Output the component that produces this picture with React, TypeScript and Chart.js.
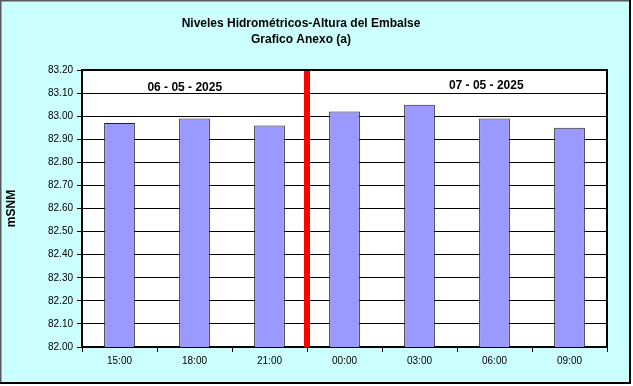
import { useEffect, useRef } from "react";
import { Chart, registerables } from "chart.js";

Chart.register(...registerables);

const categories = ["15:00", "18:00", "21:00", "00:00", "03:00", "06:00", "09:00"];
const levels = [82.97, 82.99, 82.96, 83.02, 83.05, 82.99, 82.95];
const yMin = 82.0;
const yMax = 83.2;
const yStep = 0.1;
const titleLines = ["Niveles Hidrométricos-Altura del Embalse", "Grafico Anexo (a)"];
const yAxisTitle = "mSNM";
const dayLabels = ["06 - 05 - 2025", "07 - 05 - 2025"];
const dayLabelAnchorX = [0.87, 4.89];
const dayLabelAnchorY = [83.123, 83.133];
const dividerAfterIndex = 2;

const FONT = "Arial, 'Liberation Sans', sans-serif";

const decorPlugin = {
  id: "decor",
  beforeDraw(chart: any) {
    const { ctx, width, height } = chart;
    ctx.save();
    ctx.fillStyle = "#CCFFFF";
    ctx.fillRect(0, 0, width, height);
    // frame
    ctx.fillStyle = "#5a5a5a";
    ctx.fillRect(0, 0, width - 3, 1.5);
    ctx.fillRect(0, 0, 1.5, height - 3);
    ctx.fillStyle = "#000";
    ctx.fillRect(width - 4, 0, 2, height - 2);
    ctx.fillRect(0, height - 4, width - 2, 2);
    ctx.fillStyle = "#fff";
    ctx.fillRect(width - 2, 0, 2, height);
    ctx.fillRect(0, height - 2, width, 2);
    // title
    ctx.fillStyle = "#000";
    ctx.font = `bold 12px ${FONT}`;
    ctx.textAlign = "center";
    ctx.textBaseline = "middle";
    ctx.fillText(titleLines[0], 301, 24);
    ctx.fillText(titleLines[1], 301, 40);
    // y title
    ctx.translate(12, (chart.chartArea.top + chart.chartArea.bottom) / 2);
    ctx.rotate(-Math.PI / 2);
    ctx.fillText(yAxisTitle, 0, 0);
    ctx.restore();
    // plot background
    const a = chart.chartArea;
    ctx.save();
    ctx.fillStyle = "#fff";
    ctx.fillRect(a.left, a.top, a.right - a.left, a.bottom - a.top);
    ctx.restore();
  },
  afterDatasetsDraw(chart: any) {
    const { ctx } = chart;
    const a = chart.chartArea;
    const xs = chart.scales.x;
    const ys = chart.scales.y;
    ctx.save();
    // divider
    const px =
      (xs.getPixelForValue(dividerAfterIndex) + xs.getPixelForValue(dividerAfterIndex + 1)) / 2;
    ctx.fillStyle = "#FF0000";
    ctx.fillRect(px - 3, a.top, 6, a.bottom - a.top);
    // day labels
    ctx.fillStyle = "#000";
    ctx.font = `bold 12px ${FONT}`;
    ctx.textAlign = "center";
    ctx.textBaseline = "middle";
    dayLabels.forEach((t, i) => {
      ctx.fillText(t, xs.getPixelForValue(dayLabelAnchorX[i]), ys.getPixelForValue(dayLabelAnchorY[i]));
    });
    // top and right border
    ctx.strokeStyle = "#000";
    ctx.lineWidth = 2;
    ctx.beginPath();
    ctx.moveTo(a.left, a.top);
    ctx.lineTo(a.right, a.top);
    ctx.lineTo(a.right, a.bottom);
    ctx.stroke();
    ctx.restore();
  },
};

export default function App() {
  const ref = useRef<HTMLCanvasElement>(null);
  useEffect(() => {
    document.body.style.margin = "0";
    const chart = new Chart(ref.current!, {
      type: "bar",
      data: {
        labels: categories,
        datasets: [
          {
            data: levels,
            backgroundColor: "#9999FF",
            borderColor: "#222",
            borderWidth: 1,
            barPercentage: 0.41,
            categoryPercentage: 1,
          },
        ],
      },
      options: {
        animation: false,
        responsive: false,
        devicePixelRatio: 1,
        layout: { padding: { top: 70, right: 26, left: 0, bottom: 0 } },
        plugins: { legend: { display: false }, title: { display: false }, tooltip: { enabled: false } },
        scales: {
          x: {
            type: "category",
            offset: true,
            grid: { offset: true, drawOnChartArea: false, tickLength: 5, color: "#000" },
            border: { color: "#000", width: 2 },
            ticks: { color: "#000", font: { family: FONT, size: 10 }, padding: 3, maxRotation: 0 },
            afterFit: (s: any) => {
              s.height = 39;
            },
          },
          y: {
            min: yMin,
            max: yMax,
            ticks: {
              stepSize: yStep,
              color: "#000",
              font: { family: FONT, size: 10 },
              padding: 4,
              callback: (v: any) => Number(v).toFixed(2),
            },
            grid: { color: "#000", tickLength: 5, lineWidth: 1 },
            border: { color: "#000", width: 2 },
            afterFit: (s: any) => {
              s.width = 82;
            },
          },
        },
      },
      plugins: [decorPlugin],
    });
    return () => chart.destroy();
  }, []);
  return <canvas ref={ref} width={633} height={386} style={{ display: "block" }} />;
}
